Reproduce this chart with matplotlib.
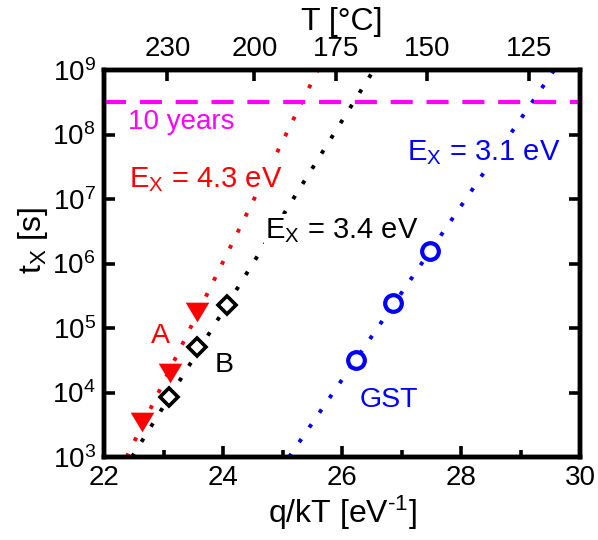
import numpy as np
import matplotlib
matplotlib.use("Agg")
import matplotlib.pyplot as plt

plt.rcParams['font.family'] = ['Liberation Sans', 'DejaVu Sans']
plt.rcParams['mathtext.fontset'] = 'custom'
plt.rcParams['mathtext.rm'] = 'Liberation Sans'
plt.rcParams['mathtext.it'] = 'Liberation Sans:italic'
plt.rcParams['mathtext.bf'] = 'Liberation Sans:bold'

# ---- data ----
A_x = [22.64, 23.11, 23.57]
A_t = [3.5e3, 2.0e4, 1.75e5]
B_x = [23.09, 23.57, 24.06]
B_t = [8.6e3, 5.1e4, 2.3e5]
GST_x = [26.24, 26.85, 27.48]
GST_t = [3.2e4, 2.45e5, 1.55e6]

fit_Ea = [4.3, 3.4, 3.1]           # eV
fit_x0 = [22.38, 22.47, 25.11]     # q/kT where fit line reaches 1e3 s
fit_colors = ['#ff0000', '#000000', '#0000ff']

ten_years = 3.156e8
T_ticks_C = [230, 200, 175, 150, 125]
k_B = 8.617e-5

fig = plt.figure(figsize=(5.98, 5.40), dpi=100)
ax = fig.add_axes([104/598, 83/540, 476/598, 387/540])

# fit lines
for Ea, x0, c in zip(fit_Ea, fit_x0, fit_colors):
    x1 = x0 + 6*np.log(10)/Ea
    xs = np.linspace(x0, x1, 200)
    ax.plot(xs, 1e3*np.exp(Ea*(xs - x0)), color=c, lw=2.8,
            linestyle=(0, (1, 3.6)), zorder=2)

ax.axhline(ten_years, color='#ff00ff', lw=3.0, linestyle=(0, (5.3, 3.3)), zorder=3)

tri = [(-1, 0.8333), (1, 0.8333), (0, -0.8333)]
ax.plot(A_x, A_t, linestyle='none', marker=tri, ms=17, mec='none',
        mfc='#ff0000', zorder=4)
ax.plot(B_x, B_t, linestyle='none', marker='D', ms=9.5, mec='black',
        mfc='white', mew=2.6, zorder=4)
ax.plot(GST_x, GST_t, linestyle='none', marker='o', ms=12, mec='#0000ff',
        mfc='white', mew=3.0, zorder=4)

fs = 20
fsE = 21
fsL = 23
bb = dict(facecolor='white', edgecolor='none', pad=1)
ax.text(22.40, 1.22e8, '10 years', color='#ff00ff', fontsize=fs)
ax.text(22.42, 1.55e7, r'E$_\mathregular{X}$ = 4.3 eV', color='#ff0000', fontsize=fsE, bbox=bb, zorder=3)
ax.text(24.71, 2.5e6, r'E$_\mathregular{X}$ = 3.4 eV', color='black', fontsize=fsE, bbox=bb, zorder=3)
ax.text(27.09, 4.03e7, r'E$_\mathregular{X}$ = 3.1 eV', color='#0000ff', fontsize=fsE, bbox=bb, zorder=3)
ax.text(22.785, 5.84e4, 'A', color='#ff0000', fontsize=20.5)
ax.text(23.866, 2.08e4, 'B', color='black', fontsize=20.5)
ax.text(26.29, 5.99e3, 'GST', color='#0000ff', fontsize=20.5)

ax.set_yscale('log')
ax.set_xlim(22, 30)
ax.set_ylim(1e3, 1e9)
ax.set_xticks([22, 24, 26, 28, 30])
ax.set_xticks([23, 25, 27, 29], minor=True)
ax.set_yticks([1e3, 1e4, 1e5, 1e6, 1e7, 1e8, 1e9])
ax.yaxis.set_minor_locator(matplotlib.ticker.NullLocator())
ax.tick_params(which='both', direction='in', width=2.6, labelsize=fs,
               top=False, right=True, pad=6)
ax.tick_params(which='major', length=8)
ax.tick_params(which='minor', length=5)
for s in ax.spines.values():
    s.set_linewidth(3.2)

ax.set_xlabel(r'q/kT [eV$^{\text{-1}}$]', fontsize=fsL, labelpad=2)
ax.set_ylabel(r't$_\mathregular{X}$ [s]', fontsize=fsL)
ax.yaxis.set_label_coords(-0.113, 0.56)

ax2 = ax.twiny()
ax2.set_xlim(ax.get_xlim())
ax2.set_xticks([1/(k_B*(T + 273.15)) for T in T_ticks_C])
ax2.set_xticklabels([str(T) for T in T_ticks_C])
ax2.xaxis.set_minor_locator(matplotlib.ticker.NullLocator())
ax2.tick_params(direction='in', length=8, width=2.6, labelsize=fs, pad=6)
ax2.set_xlabel('T [°C]', fontsize=fsL, labelpad=4)
for s in ax2.spines.values():
    s.set_linewidth(3.2)

fig.savefig('out.png', dpi=100)
